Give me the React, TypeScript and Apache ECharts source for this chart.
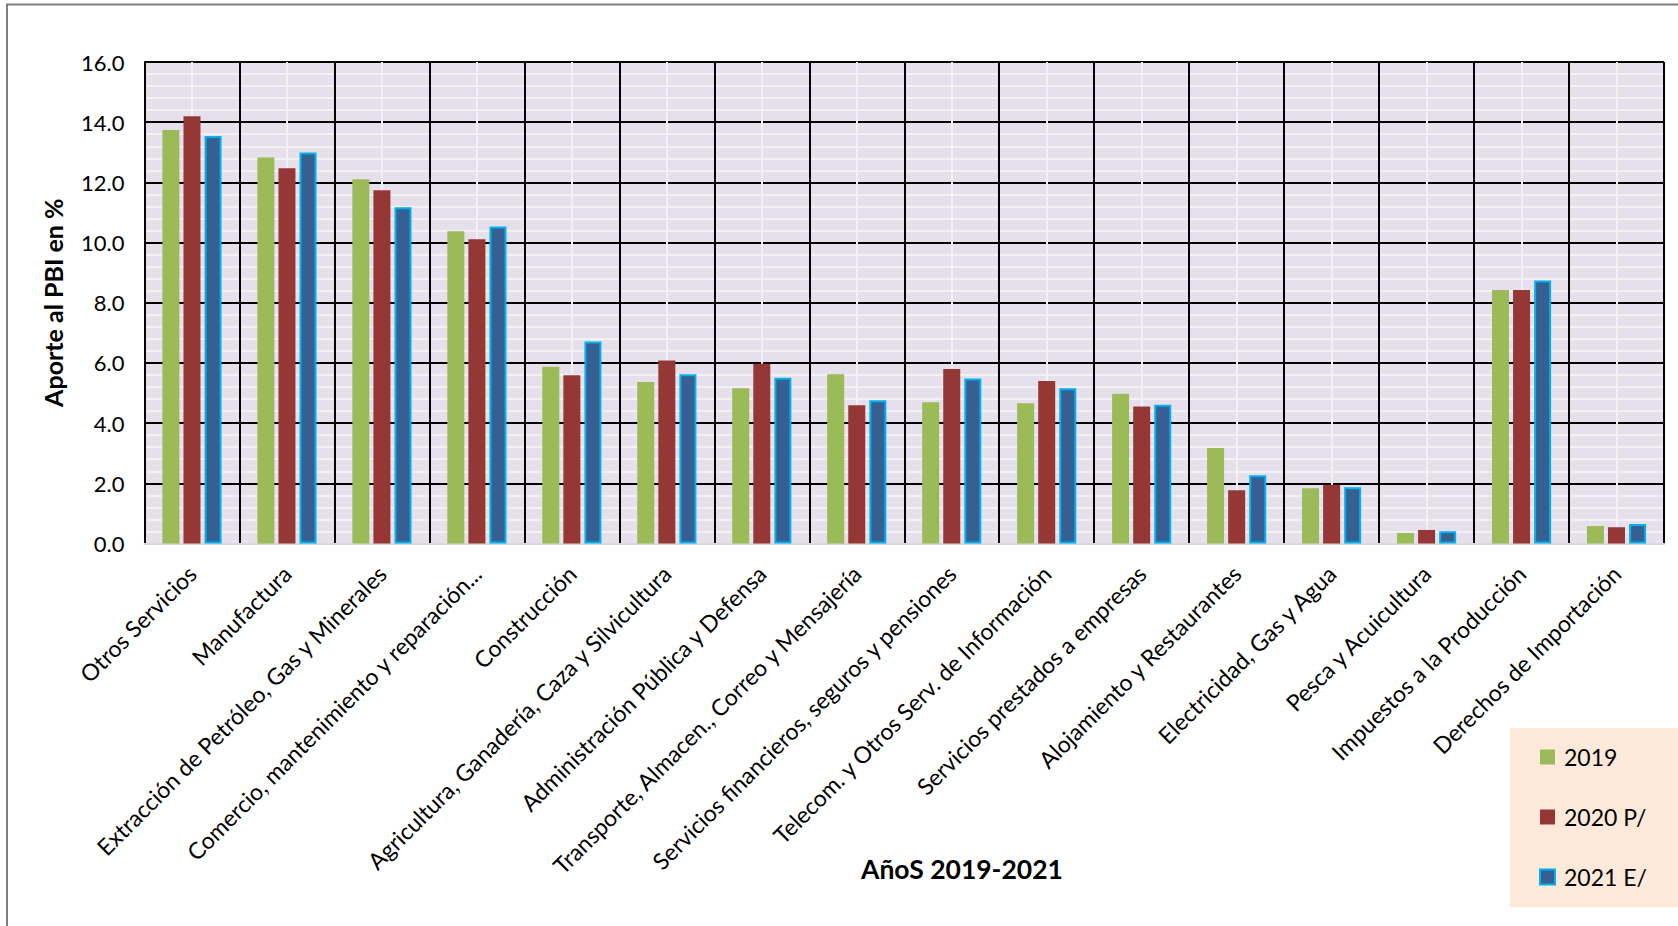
import React, { useEffect, useRef } from "react";
import * as echarts from "echarts";

const categories = [
  "Otros Servicios",
  "Manufactura",
  "Extracción de Petróleo, Gas y Minerales",
  "Comercio, mantenimiento y reparación...",
  "Construcción",
  "Agricultura, Ganadería, Caza y Silvicultura",
  "Administración Pública y Defensa",
  "Transporte, Almacen., Correo y Mensajería",
  "Servicios financieros, seguros y pensiones",
  "Telecom. y Otros Serv. de Información",
  "Servicios prestados a empresas",
  "Alojamiento y Restaurantes",
  "Electricidad, Gas y Agua",
  "Pesca y Acuicultura",
  "Impuestos a la Producción",
  "Derechos de Importación",
];

const values2019 = [13.74, 12.83, 12.1, 10.38, 5.87, 5.37, 5.16, 5.62, 4.69, 4.66, 4.98, 3.17, 1.84, 0.35, 8.42, 0.58];
const values2020 = [14.2, 12.47, 11.74, 10.11, 5.59, 6.08, 5.97, 4.59, 5.8, 5.4, 4.55, 1.77, 1.95, 0.45, 8.42, 0.54];
const values2021 = [13.54, 12.99, 11.17, 10.53, 6.71, 5.62, 5.51, 4.76, 5.48, 5.16, 4.61, 2.27, 1.87, 0.41, 8.74, 0.65];

const seriesNames = ["2019", "2020 P/", "2021 E/"];
const yTicksMax = 16;

const FONT = "Lato, 'Open Sans', sans-serif";

export default function App() {
  const ref = useRef<HTMLDivElement>(null);

  useEffect(() => {
    if (!ref.current) return;
    const chart = echarts.init(ref.current, null, { renderer: "svg" });
    chart.setOption({
      animation: false,
      backgroundColor: "#ffffff",
      textStyle: { fontFamily: FONT },
      grid: {
        left: 144.5,
        right: 14,
        top: 62,
        bottom: 382.5,
        show: true,
        backgroundColor: "#E5E0EC",
        borderWidth: 0,
      },
      legend: {
        data: seriesNames,
        orient: "vertical",
        left: 1534,
        top: 740,
        itemWidth: 15,
        itemHeight: 15,
        itemGap: 36,
        icon: "rect",
        textStyle: {
          fontFamily: FONT,
          fontSize: 23,
          lineHeight: 24,
          color: "#000",
          padding: [0, 0, 0, 4],
        },
      },
      xAxis: [
        {
          type: "category",
          data: categories,
          position: "bottom",
          axisLine: { show: true, lineStyle: { color: "#D9D9D9", width: 2 } },
          axisTick: { show: false },
          splitLine: { show: true, interval: 0, lineStyle: { color: "#000", width: 2 } },
          axisLabel: {
            interval: 0,
            rotate: 45,
            margin: 26,
            fontFamily: FONT,
            fontSize: 23,
            color: "#000",
          },
        },
        {
          type: "value",
          min: 0,
          max: 16,
          interval: 1,
          position: "bottom",
          axisLine: { show: false },
          axisTick: { show: false },
          axisLabel: { show: false },
          splitLine: { show: false },
          minorTick: { show: false, splitNumber: 2 },
          minorSplitLine: { show: true, lineStyle: { color: "#F2F2F2", width: 2 } },
        },
      ],
      yAxis: {
        type: "value",
        min: 0,
        max: yTicksMax,
        interval: 2,
        name: "Aporte al PBI en %",
        nameLocation: "middle",
        nameGap: 79,
        nameTextStyle: { fontFamily: FONT, fontWeight: "bold", fontSize: 25, color: "#000" },
        axisLine: { show: true, lineStyle: { color: "#000", width: 2 } },
        axisTick: { show: false },
        axisLabel: {
          formatter: (v: number) => v.toFixed(1),
          fontFamily: FONT,
          fontSize: 22,
          color: "#000",
          margin: 20,
        },
        splitLine: { show: true, lineStyle: { color: "#000", width: 2 } },
        minorTick: { show: false, splitNumber: 5 },
        minorSplitLine: { show: true, lineStyle: { color: "#F2F2F2", width: 2 } },
      },
      series: [
        {
          name: seriesNames[0],
          type: "bar",
          data: values2019,
          barWidth: 17,
          barGap: "24%",
          itemStyle: { color: "#9BBB59" },
        },
        {
          name: seriesNames[1],
          type: "bar",
          data: values2020,
          barWidth: 17,
          barGap: "24%",
          itemStyle: { color: "#953735" },
        },
        {
          name: seriesNames[2],
          type: "bar",
          data: values2021,
          barWidth: 17,
          barGap: "24%",
          itemStyle: { color: "#376092", borderColor: "#00B0F0", borderWidth: 2 },
        },
      ],
      graphic: [
        {
          type: "rect",
          z: -10,
          shape: { x: 1510, y: 728, width: 200, height: 179 },
          style: { fill: "#FDE9D9" },
          silent: true,
        },
        {
          type: "rect",
          shape: { x: 7, y: 4.5, width: 1720, height: 960 },
          style: { fill: "none", stroke: "#7F7F7F", lineWidth: 2 },
          silent: true,
        },
        {
          type: "text",
          x: 962,
          y: 869,
          style: {
            text: "AñoS 2019-2021",
            fontFamily: FONT,
            fontWeight: "bold",
            fontSize: 26.5,
            fill: "#000",
            textAlign: "center",
            textVerticalAlign: "middle",
          },
        },
      ],
    });
    return () => chart.dispose();
  }, []);

  return (
    <div
      ref={ref}
      style={{ position: "absolute", left: 0, top: 0, width: 1678, height: 926 }}
    />
  );
}
